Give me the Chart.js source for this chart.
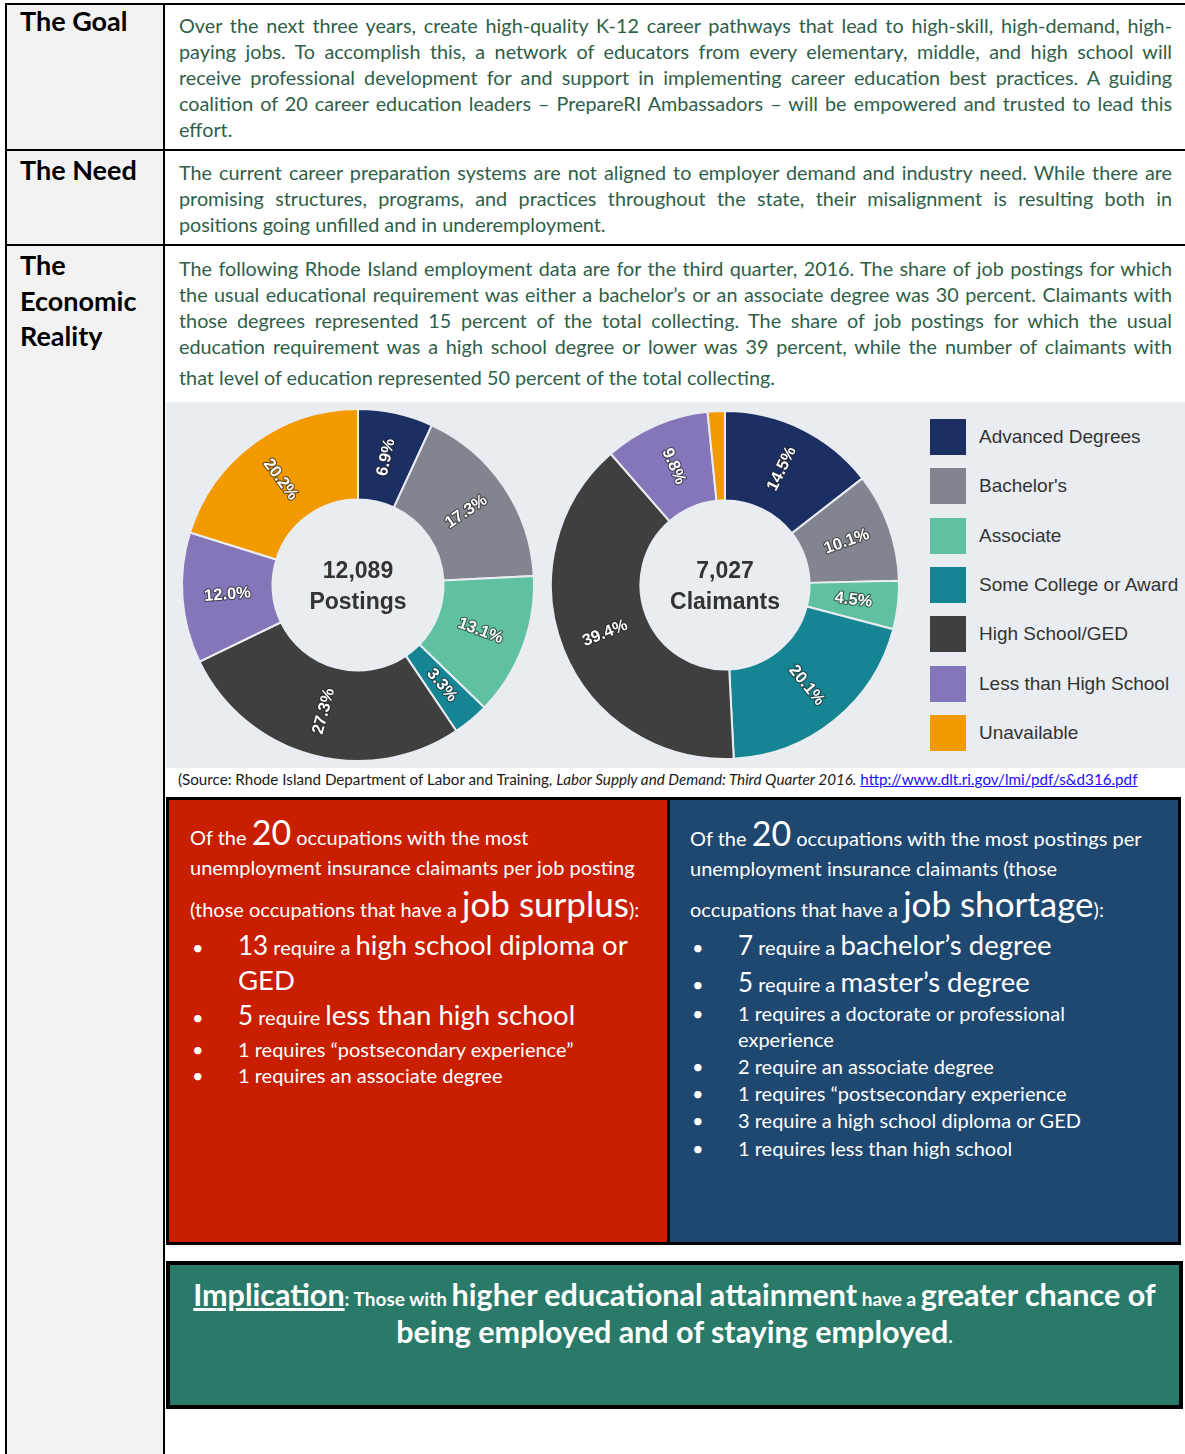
<!DOCTYPE html>
<html>
<head>
<meta charset="utf-8">
<script src="https://cdn.jsdelivr.net/npm/chart.js@4.4.0/dist/chart.umd.min.js"></script>
<style>
  body { margin: 0; background: #fff; }
  #page { position: relative; width: 1185px; height: 1454px; overflow: hidden; font-family: Lato, "Open Sans", sans-serif; }
  .abs { position: absolute; }
  .hline { position: absolute; left: 5px; width: 1180px; height: 2px; background: #000; }
  .vline { position: absolute; top: 3px; width: 2px; height: 1451px; background: #000; }
  .head { position: absolute; left: 20px; font-weight: bold; font-size: 27px; color: #000; line-height: 36px; }
  .para { position: absolute; left: 179px; width: 993px; font-size: 19.8px; color: #2f5e49; }
  .para div { height: 26px; line-height: 26px; text-align: justify; text-align-last: justify; }
  .para div.last { text-align: left; text-align-last: left; }
  .ln { position: absolute; white-space: nowrap; color: #fff; font-size: 20px; line-height: normal; }
  .box { position: absolute; box-sizing: border-box; border: 3px solid #000; }
  #legend div.sw { position: absolute; left: 930px; width: 36px; height: 36px; }
  #legend div.tx { position: absolute; left: 979px; height: 36px; line-height: 36px; font-family: "Liberation Sans", Arial, sans-serif; font-size: 19px; color: #333; white-space: nowrap; }
</style>
</head>
<body>
<div id="page">
  <div class="abs" style="left:7px;top:5px;width:156px;height:1449px;background:#f2f2f2"></div>
  <div class="vline" style="left:5px"></div>
  <div class="vline" style="left:163px"></div>
  <div class="hline" style="top:3px"></div>
  <div class="hline" style="top:149px"></div>
  <div class="hline" style="top:244px"></div>

  <div class="ln head" data-x="20" data-b="31" style="color:#000;font-size:27px">The Goal</div>
  <div class="ln head" data-x="20" data-b="180" style="color:#000;font-size:27px">The Need</div>
  <div class="ln head" data-x="20" data-b="275" style="color:#000;font-size:27px">The</div>
  <div class="ln head" data-x="20" data-b="311" style="color:#000;font-size:27px">Economic</div>
  <div class="ln head" data-x="20" data-b="346" style="color:#000;font-size:27px">Reality</div>

  <div class="para" style="top:12px">
    <div>Over the next three years, create high-quality K-12 career pathways that lead to high-skill, high-demand, high-</div>
    <div>paying jobs. To accomplish this, a network of educators from every elementary, middle, and high school will</div>
    <div>receive professional development for and support in implementing career education best practices. A guiding</div>
    <div>coalition of 20 career education leaders – PrepareRI Ambassadors – will be empowered and trusted to lead this</div>
    <div class="last">effort.</div>
  </div>
  <div class="para" style="top:159px">
    <div>The current career preparation systems are not aligned to employer demand and industry need. While there are</div>
    <div>promising structures, programs, and practices throughout the state, their misalignment is resulting both in</div>
    <div class="last">positions going unfilled and in underemployment.</div>
  </div>
  <div class="para" style="top:255px">
    <div>The following Rhode Island employment data are for the third quarter, 2016. The share of job postings for which</div>
    <div>the usual educational requirement was either a bachelor’s or an associate degree was 30 percent. Claimants with</div>
    <div>those degrees represented 15 percent of the total collecting. The share of job postings for which the usual</div>
    <div>education requirement was a high school degree or lower was 39 percent, while the number of claimants with</div>
    <div class="last" style="margin-top:5px">that level of education represented 50 percent of the total collecting.</div>
  </div>

  <div class="abs" style="left:166px;top:402px;width:1019px;height:366px;background:#e9ecf0"></div>
  <canvas id="postings" class="abs" style="left:178px;top:405px" width="360" height="360"></canvas>
  <canvas id="claimants" class="abs" style="left:545px;top:405px" width="360" height="360"></canvas>
  <div id="legend"></div>

  <div class="ln" data-x="178" data-b="785" style="color:#1a1a1a;font-size:15.2px">(Source: Rhode Island Department of Labor and Training, <i>Labor Supply and Demand: Third Quarter 2016.</i> <span style="color:#1a0dff;text-decoration:underline">http://www.dlt.ri.gov/lmi/pdf/s&amp;d316.pdf</span></div>

  <div class="box" style="left:166px;top:797px;width:504px;height:448px;background:#c91e00"></div>
  <div class="box" style="left:667px;top:797px;width:514px;height:448px;background:#1f4871"></div>

  <div class="ln" data-x="190" data-b="845">Of the <span style="font-size:34px">20</span> occupations with the most</div>
  <div class="ln" data-x="190" data-b="875">unemployment insurance claimants per job posting</div>
  <div class="ln" data-x="190" data-b="917">(those occupations that have a <span style="font-size:35px">job surplus</span>):</div>
  <div class="ln" data-x="192" data-b="955">•</div>
  <div class="ln" data-x="238" data-b="955"><span style="font-size:26px">13</span> require a <span style="font-size:27.5px">high school diploma or</span></div>
  <div class="ln" data-x="238" data-b="990"><span style="font-size:27.5px">GED</span></div>
  <div class="ln" data-x="192" data-b="1025">•</div>
  <div class="ln" data-x="238" data-b="1025"><span style="font-size:26px">5</span> require <span style="font-size:27.5px">less than high school</span></div>
  <div class="ln" data-x="192" data-b="1057">•</div>
  <div class="ln" data-x="238" data-b="1057">1 requires “postsecondary experience”</div>
  <div class="ln" data-x="192" data-b="1083">•</div>
  <div class="ln" data-x="238" data-b="1083">1 requires an associate degree</div>

  <div class="ln" data-x="690" data-b="846">Of the <span style="font-size:34px">20</span> occupations with the most postings per</div>
  <div class="ln" data-x="690" data-b="876">unemployment insurance claimants (those</div>
  <div class="ln" data-x="690" data-b="917">occupations that have a <span style="font-size:35px">job shortage</span>):</div>
  <div class="ln" data-x="692" data-b="955">•</div>
  <div class="ln" data-x="738" data-b="955"><span style="font-size:26px">7</span> require a <span style="font-size:27.5px">bachelor’s degree</span></div>
  <div class="ln" data-x="692" data-b="992">•</div>
  <div class="ln" data-x="738" data-b="992"><span style="font-size:26px">5</span> require a <span style="font-size:27.5px">master’s degree</span></div>
  <div class="ln" data-x="692" data-b="1021">•</div>
  <div class="ln" data-x="738" data-b="1021">1 requires a doctorate or professional</div>
  <div class="ln" data-x="738" data-b="1047">experience</div>
  <div class="ln" data-x="692" data-b="1074">•</div>
  <div class="ln" data-x="738" data-b="1074">2 require an associate degree</div>
  <div class="ln" data-x="692" data-b="1101">•</div>
  <div class="ln" data-x="738" data-b="1101">1 requires “postsecondary experience</div>
  <div class="ln" data-x="692" data-b="1128">•</div>
  <div class="ln" data-x="738" data-b="1128">3 require a high school diploma or GED</div>
  <div class="ln" data-x="692" data-b="1156">•</div>
  <div class="ln" data-x="738" data-b="1156">1 requires less than high school</div>

  <div class="box" style="left:166px;top:1261px;width:1017px;height:148px;background:#2a7a69;border-width:4px"></div>
  <div class="ln" data-x="166" data-b="1306" style="width:1017px;text-align:center;font-weight:bold;font-size:19px"><span style="font-size:30.5px;text-decoration:underline">Implication</span>: Those with <span style="font-size:30.5px">higher educational attainment</span> have a <span style="font-size:30.5px">greater chance of</span></div>
  <div class="ln" data-x="166" data-b="1343" style="width:1017px;text-align:center;font-weight:bold;font-size:19px"><span style="font-size:30.5px">being employed and of staying employed</span>.</div>
</div>

<script>
const categories = ['Advanced Degrees', "Bachelor's", 'Associate', 'Some College or Award', 'High School/GED', 'Less than High School', 'Unavailable'];
const postingsShare = [6.9, 17.3, 13.1, 3.3, 27.3, 12.0, 20.2];
const claimantsShare = [14.5, 10.1, 4.5, 20.1, 39.4, 9.8, 1.6];
const totals = [12089, 7027];
const totalNames = ['Postings', 'Claimants'];
const sliceColors = ['#1c2f63', '#82858f', '#5fc1a2', '#158594', '#3f3f3f', '#8476b9', '#f39a00'];

// legend
const legend = document.getElementById('legend');
categories.forEach(function (c, i) {
  const top = 419 + i * 49.3;
  legend.insertAdjacentHTML('beforeend',
    '<div class="sw" style="top:' + top + 'px;background:' + sliceColors[i] + '"></div>' +
    '<div class="tx" style="top:' + top + 'px">' + c + '</div>');
});

// percent labels on the ring, turned along the radius
const sliceLabels = {
  id: 'sliceLabels',
  afterDatasetsDraw(chart) {
    const ctx = chart.ctx;
    const vals = chart.data.datasets[0].data;
    ctx.save();
    ctx.font = 'bold 16.5px "Liberation Sans", Arial, sans-serif';
    ctx.textAlign = 'center';
    ctx.textBaseline = 'middle';
    chart.getDatasetMeta(0).data.forEach(function (arc, i) {
      if (vals[i] < 2) return;
      const p = arc.tooltipPosition();
      let a = (arc.startAngle + arc.endAngle) / 2;
      a = Math.atan2(Math.sin(a), Math.cos(a));
      if (a > Math.PI / 2) a -= Math.PI;
      else if (a < -Math.PI / 2) a += Math.PI;
      const txt = vals[i].toFixed(1) + '%';
      ctx.save();
      ctx.translate(p.x, p.y);
      ctx.rotate(a);
      ctx.lineJoin = 'round';
      ctx.lineWidth = 2.2;
      ctx.strokeStyle = 'rgba(35,35,35,0.65)';
      ctx.strokeText(txt, 0, 0);
      ctx.fillStyle = '#fff';
      ctx.fillText(txt, 0, 0);
      ctx.restore();
    });
    ctx.restore();
  }
};

// total in the hole
const centerText = {
  id: 'centerText',
  afterDraw(chart) {
    const ctx = chart.ctx;
    const o = chart.options.plugins.centerText;
    const arc = chart.getDatasetMeta(0).data[0];
    ctx.save();
    ctx.font = 'bold 23px "Liberation Sans", Arial, sans-serif';
    ctx.fillStyle = '#333';
    ctx.textAlign = 'center';
    ctx.textBaseline = 'middle';
    ctx.fillText(o.total.toLocaleString('en-US'), arc.x, arc.y - 13);
    ctx.fillText(o.name, arc.x, arc.y + 18);
    ctx.restore();
  }
};

function donut(id, values, idx, radius) {
  return new Chart(document.getElementById(id), {
    type: 'doughnut',
    data: {
      labels: categories,
      datasets: [{
        data: values,
        backgroundColor: sliceColors,
        borderColor: '#e9ecf0',
        borderWidth: 2
      }]
    },
    options: {
      responsive: false,
      animation: false,
      radius: radius,
      cutout: 87,
      layout: { padding: 0 },
      plugins: {
        legend: { display: false },
        tooltip: { enabled: false },
        centerText: { total: totals[idx], name: totalNames[idx] }
      }
    },
    plugins: [sliceLabels, centerText]
  });
}

donut('postings', postingsShare, 0, 176);
donut('claimants', claimantsShare, 1, 174);

// put each text line on its baseline
function placeLines() {
  const pageTop = document.getElementById('page').getBoundingClientRect().top;
  document.querySelectorAll('.ln').forEach(function (el) {
    el.style.left = el.dataset.x + 'px';
    el.style.top = '0px';
    let m = el.querySelector('.bm');
    if (!m) {
      m = document.createElement('span');
      m.className = 'bm';
      m.style.cssText = 'display:inline-block;width:0;height:0';
      el.insertBefore(m, el.firstChild);
    }
    const b = m.getBoundingClientRect().top - pageTop;
    el.style.top = (+el.dataset.b - b) + 'px';
  });
}
placeLines();
if (document.fonts) document.fonts.ready.then(placeLines);
</script>
</body>
</html>
